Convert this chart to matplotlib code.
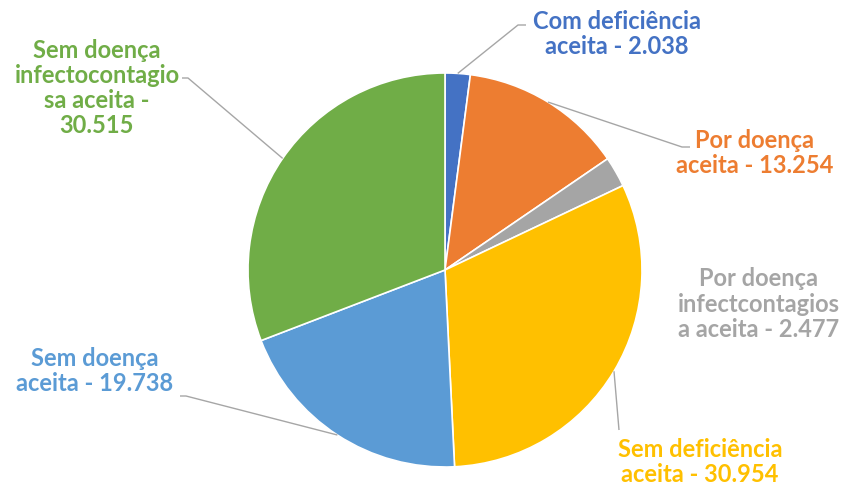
import numpy as np
import matplotlib
matplotlib.use("Agg")
import matplotlib.pyplot as plt

categories = ["Com deficiência aceita", "Por doença aceita",
              "Por doença infectcontagiosa aceita", "Sem deficiência aceita",
              "Sem doença aceita", "Sem doença infectocontagiosa aceita"]
values = [2038, 13254, 2477, 30954, 19738, 30515]
value_labels = ["2.038", "13.254", "2.477", "30.954", "19.738", "30.515"]
label_texts = ["Com deficiência\naceita - 2.038",
               "Por doença\naceita - 13.254",
               "Por doença\ninfectcontagios\na aceita - 2.477",
               "Sem deficiência\naceita - 30.954",
               "Sem doença\naceita - 19.738",
               "Sem doença\ninfectocontagio\nsa aceita -\n30.515"]
colors = ["#4472C4", "#ED7D31", "#A5A5A5", "#FFC000", "#5B9BD5", "#70AD47"]

W, H = 854, 490
fig = plt.figure(figsize=(W / 100, H / 100), dpi=100)
ax = fig.add_axes([0, 0, 1, 1])

def P(x, y):
    return x, H - y

cx, cy = P(445, 270)
R = 197
wedges, _ = ax.pie(values, colors=colors, startangle=90, counterclock=False,
                   center=(cx, cy), radius=R,
                   wedgeprops=dict(edgecolor="white", linewidth=1.2))
ax.set_xlim(0, W)
ax.set_ylim(0, H)
ax.set_aspect("auto")
ax.axis("off")

# label layout: (text center x, text center y, elbow points or None)
layout = [
    (617, 34, [(518, 25), (526, 25)]),
    (755, 153, [(682, 147), (690, 147)]),
    (759, 304, None),
    (700, 462, [(619, 430)]),
    (95, 371, [(186, 396), (180, 396)]),
    (97, 88, [(188, 78), (182, 78)]),
]

for w, txt, col, (tx, ty, pts) in zip(wedges, label_texts, colors, layout):
    ang = np.deg2rad((w.theta1 + w.theta2) / 2)
    ax_x = cx + R * np.cos(ang)
    ax_y = cy + R * np.sin(ang)
    if pts is not None:
        xs = [ax_x] + [p[0] for p in pts]
        ys = [ax_y] + [H - p[1] for p in pts]
        ax.plot(xs, ys, color="#A6A6A6", lw=1.0, solid_capstyle="butt")
    X, Y = P(tx, ty)
    ax.text(X, Y, txt, ha="center", va="center", color=col, fontsize=17,
            fontweight="bold", family=["Lato", "DejaVu Sans"], linespacing=1.12)

fig.savefig("out.png", dpi=100, facecolor="white")
